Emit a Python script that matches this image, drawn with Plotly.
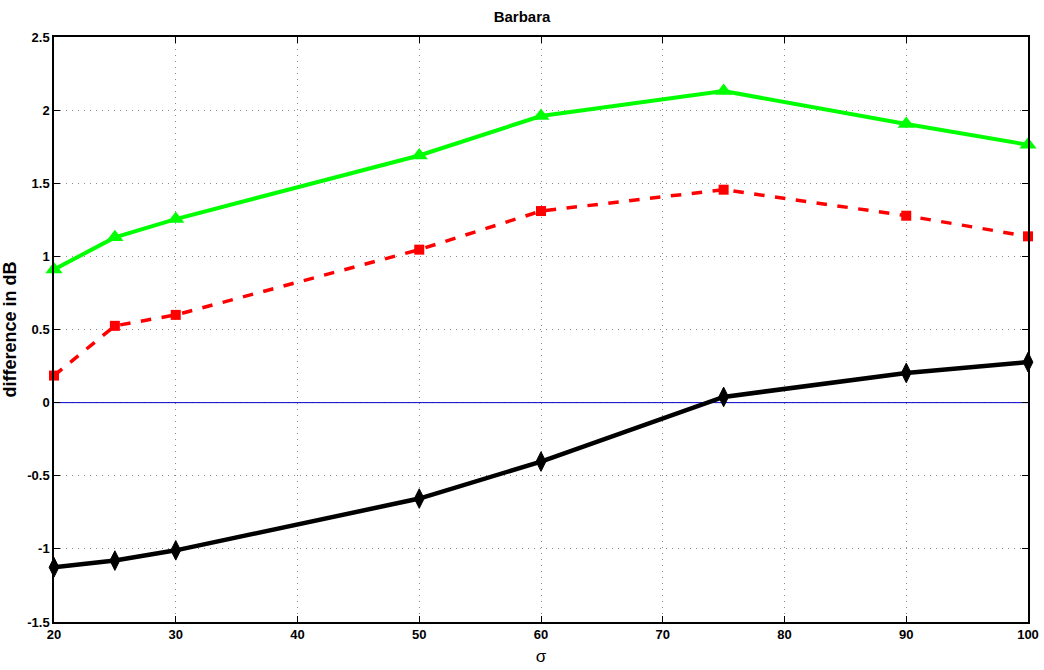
import plotly.graph_objects as go

sigma = [20, 25, 30, 50, 60, 75, 90, 100]
green_vals = [0.91, 1.13, 1.255, 1.69, 1.96, 2.13, 1.905, 1.763]
red_vals = [0.185, 0.525, 0.60, 1.046, 1.31, 1.456, 1.278, 1.137]
black_vals = [-1.126, -1.08, -1.01, -0.656, -0.403, 0.039, 0.203, 0.277]
zero_x = [20, 100]
zero_y = [0, 0]

x_ticks = [20, 30, 40, 50, 60, 70, 80, 90, 100]
x_tick_text = ["<b>%d</b>" % v for v in x_ticks]
y_ticks = [-1.5, -1, -0.5, 0, 0.5, 1, 1.5, 2, 2.5]
y_tick_text = ["<b>%s</b>" % t for t in ["-1.5", "-1", "-0.5", "0", "0.5", "1", "1.5", "2", "2.5"]]

fig = go.Figure()
fig.add_trace(go.Scatter(x=zero_x, y=zero_y, mode="lines",
                         line=dict(color="#0000cc", width=1), showlegend=False))
fig.add_trace(go.Scatter(x=sigma, y=green_vals, mode="lines+markers",
                         line=dict(color="#00ff00", width=4),
                         marker=dict(symbol="triangle-up", size=15, color="#00ff00"),
                         showlegend=False, cliponaxis=False))
fig.add_trace(go.Scatter(x=sigma, y=red_vals, mode="lines+markers",
                         line=dict(color="#ff0000", width=3.5, dash="dash"),
                         marker=dict(symbol="square", size=10, color="#ff0000"),
                         showlegend=False, cliponaxis=False))
fig.add_trace(go.Scatter(x=sigma, y=black_vals, mode="lines+markers",
                         line=dict(color="#000000", width=4.5),
                         marker=dict(symbol="diamond-tall", size=14, color="#000000",
                                     line=dict(color="#000000", width=1)),
                         showlegend=False, cliponaxis=False))

font_family = "Liberation Sans"
axis_common = dict(
    showline=True, linecolor="black", linewidth=1.5, mirror="ticks",
    ticks="inside", ticklen=6, tickcolor="black", tickwidth=1,
    showgrid=True, gridcolor="#8a8a8a", griddash="1px,5px", gridwidth=1,
    zeroline=False, automargin=False,
    tickfont=dict(family=font_family, size=13, color="black"),
)

fig.update_layout(
    width=1044, height=670,
    margin=dict(l=54, r=16, t=37, b=48),
    paper_bgcolor="white", plot_bgcolor="white",
    title=dict(text="<b>Barbara</b>", x=0.5, xanchor="center", y=0.975, yanchor="middle",
               font=dict(family=font_family, size=15, color="black")),
    xaxis=dict(range=[20, 100], tickvals=x_ticks, ticktext=x_tick_text,
               title=dict(text="σ", font=dict(family=font_family, size=17, color="black"),
                          standoff=9),
               **axis_common),
    yaxis=dict(range=[-1.5, 2.5], tickvals=y_ticks, ticktext=y_tick_text,
               title=dict(text="<b>difference in dB</b>",
                          font=dict(family=font_family, size=18, color="black"),
                          standoff=10),
               **axis_common),
)

fig.write_html("out.html")
